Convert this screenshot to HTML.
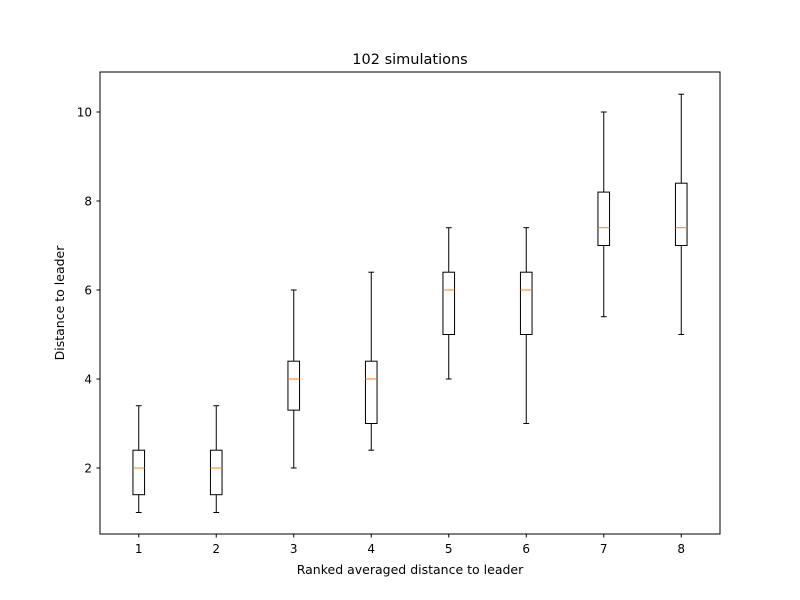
<!DOCTYPE html>
<html><head><meta charset="utf-8"><style>
html,body{margin:0;padding:0;background:#fff;}
svg{display:block;font-family:"DejaVu Sans","Liberation Sans",sans-serif;}
</style></head><body>
<svg id="chart" width="800" height="600" xmlns="http://www.w3.org/2000/svg">
<rect width="800" height="600" fill="#fff"/>
<text x="410" y="64" text-anchor="middle" font-size="14.5">102 simulations</text>
<g id="plot"></g>
<rect x="100" y="72" width="620" height="462" fill="none" stroke="#000" stroke-width="1"/>
<text x="410" y="574" text-anchor="middle" font-size="12.5">Ranked averaged distance to leader</text>
<text transform="translate(64,303) rotate(-90)" text-anchor="middle" font-size="12.5">Distance to leader</text>
</svg>
<script>
const categories = [1,2,3,4,5,6,7,8];
const whiskerLow = [1,1,2,2.4,4,3,5.4,5];
const q1 = [1.4,1.4,3.3,3.0,5,5,7,7];
const medians = [2,2,4,4,6,6,7.4,7.4];
const q3 = [2.4,2.4,4.4,4.4,6.4,6.4,8.2,8.4];
const whiskerHigh = [3.4,3.4,6,6.4,7.4,7.4,10,10.4];
const yTicks = [2,4,6,8,10];

const NS="http://www.w3.org/2000/svg";
const g=document.getElementById('plot');
const X=v=>100+(v-0.5)*77.5;
const Y=v=>557-v*44.5;
function el(t,a,p){const e=document.createElementNS(NS,t);for(const k in a)e.setAttribute(k,a[k]);(p||g).appendChild(e);return e;}

yTicks.forEach(t=>{
  const tk=el('line',{x1:96.5,x2:100,y1:Y(t),y2:Y(t),stroke:'#000'});
  
  
  const tx=el('text',{x:92,y:Y(t)+4.5,'text-anchor':'end','font-size':12});
  tx.textContent=t;
  
  
});
categories.forEach((c,i)=>{
  const x=X(c);
  const tk=el('line',{x1:x,x2:x,y1:534,y2:537.5,stroke:'#000'});
  
  
  const tx=el('text',{x:x,y:553,'text-anchor':'middle','font-size':12});
  tx.textContent=c;
  
  
  const bg=el('g',{});
  
  
  const hw=5.8, cw=2.9;
  el('line',{x1:x,x2:x,y1:Y(q1[i]),y2:Y(whiskerLow[i]),stroke:'#000'},bg);
  el('line',{x1:x,x2:x,y1:Y(q3[i]),y2:Y(whiskerHigh[i]),stroke:'#000'},bg);
  el('line',{x1:x-cw,x2:x+cw,y1:Y(whiskerLow[i]),y2:Y(whiskerLow[i]),stroke:'#000'},bg);
  el('line',{x1:x-cw,x2:x+cw,y1:Y(whiskerHigh[i]),y2:Y(whiskerHigh[i]),stroke:'#000'},bg);
  el('rect',{x:x-hw,y:Y(q3[i]),width:2*hw,height:Y(q1[i])-Y(q3[i]),fill:'none',stroke:'#000'},bg);
  el('line',{x1:x-hw,x2:x+hw,y1:Y(medians[i]),y2:Y(medians[i]),stroke:'#ff7f0e'},bg);
});
</script>
</body></html>
